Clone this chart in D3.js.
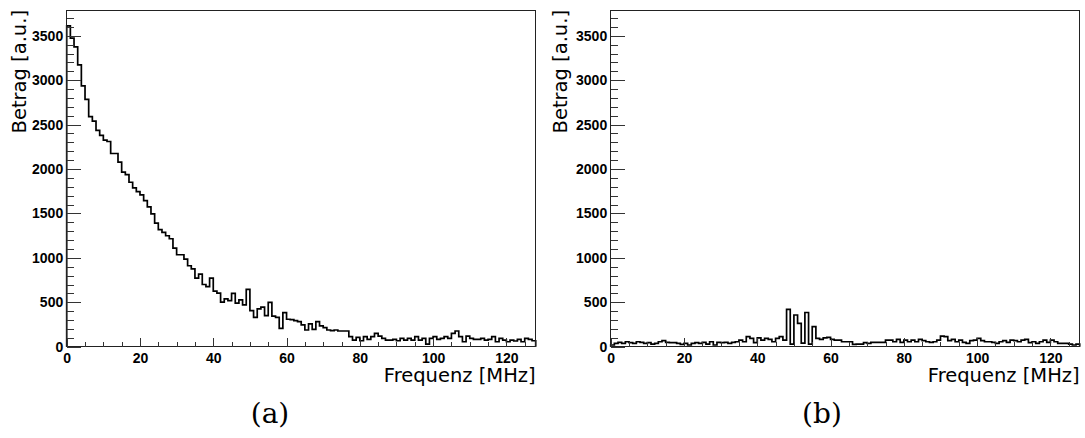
<!DOCTYPE html>
<html>
<head>
<meta charset="utf-8">
<script src="https://cdn.jsdelivr.net/npm/d3@7"></script>
<style>
  body { margin: 0; background: #fff; }
  .tickLabel { font-family: "Liberation Sans", Arial, sans-serif; font-weight: bold; font-size: 14px; }
  .axisTitle { font-family: "DejaVu Sans", sans-serif; font-size: 19.5px; }
  .caption { font-family: "DejaVu Serif", serif; font-size: 28px; }
</style>
</head>
<body>
<div id="chart"></div>
<script>
// bin edges: 128 bins of 1 MHz, 0..128 MHz
const binWidth = 1;

// (a) Betrag pro Frequenz-Bin
const valuesA = [
  3612, 3473, 3375, 3172, 2935, 2784, 2589, 2540, 2434, 2378,
  2325, 2310, 2175, 2175, 2077, 1964, 1938, 1851, 1788, 1745,
  1710, 1645, 1575, 1494, 1392, 1317, 1287, 1249, 1215, 1110,
  1035, 1035, 986, 911, 877, 772, 817, 700, 677, 772,
  625, 603, 501, 538, 519, 600, 490, 527, 470, 645,
  406, 330, 425, 445, 350, 500, 345, 330, 207, 384,
  309, 305, 293, 282, 245, 188, 256, 196, 282, 234,
  215, 188, 180, 188, 177, 177, 177, 113, 75, 105,
  67, 113, 83, 113, 150, 120, 94, 75, 75, 83,
  67, 94, 75, 94, 75, 113, 75, 94, 30, 94,
  113, 83, 94, 113, 94, 150, 177, 113, 56, 120,
  94, 83, 83, 94, 75, 83, 113, 56, 94, 75,
  56, 75, 64, 83, 56, 94, 83, 67
];

// (b) Betrag pro Frequenz-Bin
const valuesB = [
  19, 38, 49, 38, 56, 45, 38, 56, 49, 38,
  45, 30, 38, 56, 68, 49, 45, 45, 38, 26,
  38, 19, 38, 45, 38, 49, 30, 56, 19, 49,
  45, 49, 38, 49, 56, 75, 56, 113, 94, 45,
  100, 75, 94, 83, 56, 94, 113, 75, 421, 30,
  357, 263, 40, 385, 30, 225, 94, 83, 100, 105,
  83, 75, 75, 56, 56, 56, 26, 30, 30, 45,
  38, 49, 49, 49, 49, 75, 75, 56, 83, 49,
  75, 56, 75, 56, 83, 68, 56, 49, 56, 75,
  120, 113, 68, 83, 56, 75, 49, 38, 68, 75,
  94, 68, 56, 56, 49, 38, 56, 68, 49, 75,
  68, 56, 75, 83, 45, 56, 38, 56, 75, 49,
  75, 56, 38, 38, 38, 30, 19, 30
];

// axis ticks
const xMajorTicks = [0, 20, 40, 60, 80, 100, 120];
const xMinorTicks = d3.range(0, 128, 5).filter(v => v % 20 !== 0);
const yMajorTicks = [0, 500, 1000, 1500, 2000, 2500, 3000, 3500];
const yMinorTicks = d3.range(0, 3800, 100).filter(v => v % 500 !== 0);

const xTitle = "Frequenz [MHz]";
const yTitle = "Betrag [a.u.]";
const captions = ["(a)", "(b)"];

// layout
const W = 1085, H = 438;
const frameTop = 10, frameBottom = 346.7, frameWidth = 469;
const panelLefts = [66.7, 610.7];
const yTitleX = [25.5, 567];
const captionX = [270, 822];
const yMax = 3790, xMax = 128;

const svg = d3.select('#chart').append('svg')
  .attr('width', W)
  .attr('height', H);

svg.append('rect').attr('width', W).attr('height', H).attr('fill', '#fff');

const y = d3.scaleLinear().domain([0, yMax]).range([frameBottom, frameTop]);

/**
 * Stufenlinie eines Histogramms
 */
function histPath(x, values) {
  let d = `M ${x(0)} ${y(0)}`;
  values.forEach((v, i) => {
    d += ` L ${x(i * binWidth)} ${y(v)} L ${x((i + 1) * binWidth)} ${y(v)}`;
  });
  d += ` L ${x(values.length * binWidth)} ${y(0)}`;
  return d;
}

[valuesA, valuesB].forEach((values, p) => {
  const left = panelLefts[p];
  const x = d3.scaleLinear().domain([0, xMax]).range([left, left + frameWidth]);
  const g = svg.append('g');

  // Histogramm
  g.append('path')
    .attr('d', histPath(x, values))
    .attr('fill', 'none')
    .attr('stroke', '#000')
    .attr('stroke-width', 1.7)
    .attr('stroke-linejoin', 'miter');

  // Rahmen
  g.append('rect')
    .attr('x', left).attr('y', frameTop)
    .attr('width', frameWidth).attr('height', frameBottom - frameTop)
    .attr('fill', 'none')
    .attr('stroke', '#222')
    .attr('stroke-width', 1)
    .attr('shape-rendering', 'crispEdges');

  // y Achse (Ticks nach innen)
  const yMinor = g.append('g')
    .attr('transform', `translate(${left},0)`)
    .call(d3.axisLeft(y).tickValues(yMinorTicks).tickSize(-7).tickFormat(''));
  const yMajor = g.append('g')
    .attr('transform', `translate(${left},0)`)
    .call(d3.axisLeft(y).tickValues(yMajorTicks).tickSize(-14).tickPadding(3.5).tickFormat(d3.format('d')));

  // x Achse
  const xMinor = g.append('g')
    .attr('transform', `translate(0,${frameBottom})`)
    .call(d3.axisBottom(x).tickValues(xMinorTicks).tickSize(-4.5).tickFormat(''));
  const xMajor = g.append('g')
    .attr('transform', `translate(0,${frameBottom})`)
    .call(d3.axisBottom(x).tickValues(xMajorTicks).tickSize(-9).tickPadding(6.5).tickFormat(d3.format('d')));

  [yMinor, yMajor, xMinor, xMajor].forEach(a => {
    a.select('.domain').remove();
    a.selectAll('line').attr('stroke', '#333').attr('shape-rendering', 'crispEdges');
    a.selectAll('text').attr('class', 'tickLabel').attr('fill', '#000')
      .attr('font-family', null).attr('font-size', null);
  });

  // Achsentitel
  g.append('text')
    .attr('class', 'axisTitle')
    .attr('x', left + frameWidth)
    .attr('y', 382)
    .attr('text-anchor', 'end')
    .text(xTitle);

  g.append('text')
    .attr('class', 'axisTitle')
    .attr('transform', `translate(${yTitleX[p]},${frameTop}) rotate(-90)`)
    .attr('text-anchor', 'end')
    .text(yTitle);

  // Unterschrift
  svg.append('text')
    .attr('class', 'caption')
    .attr('x', captionX[p])
    .attr('y', 423)
    .attr('text-anchor', 'middle')
    .text(captions[p]);
});
</script>
</body>
</html>
